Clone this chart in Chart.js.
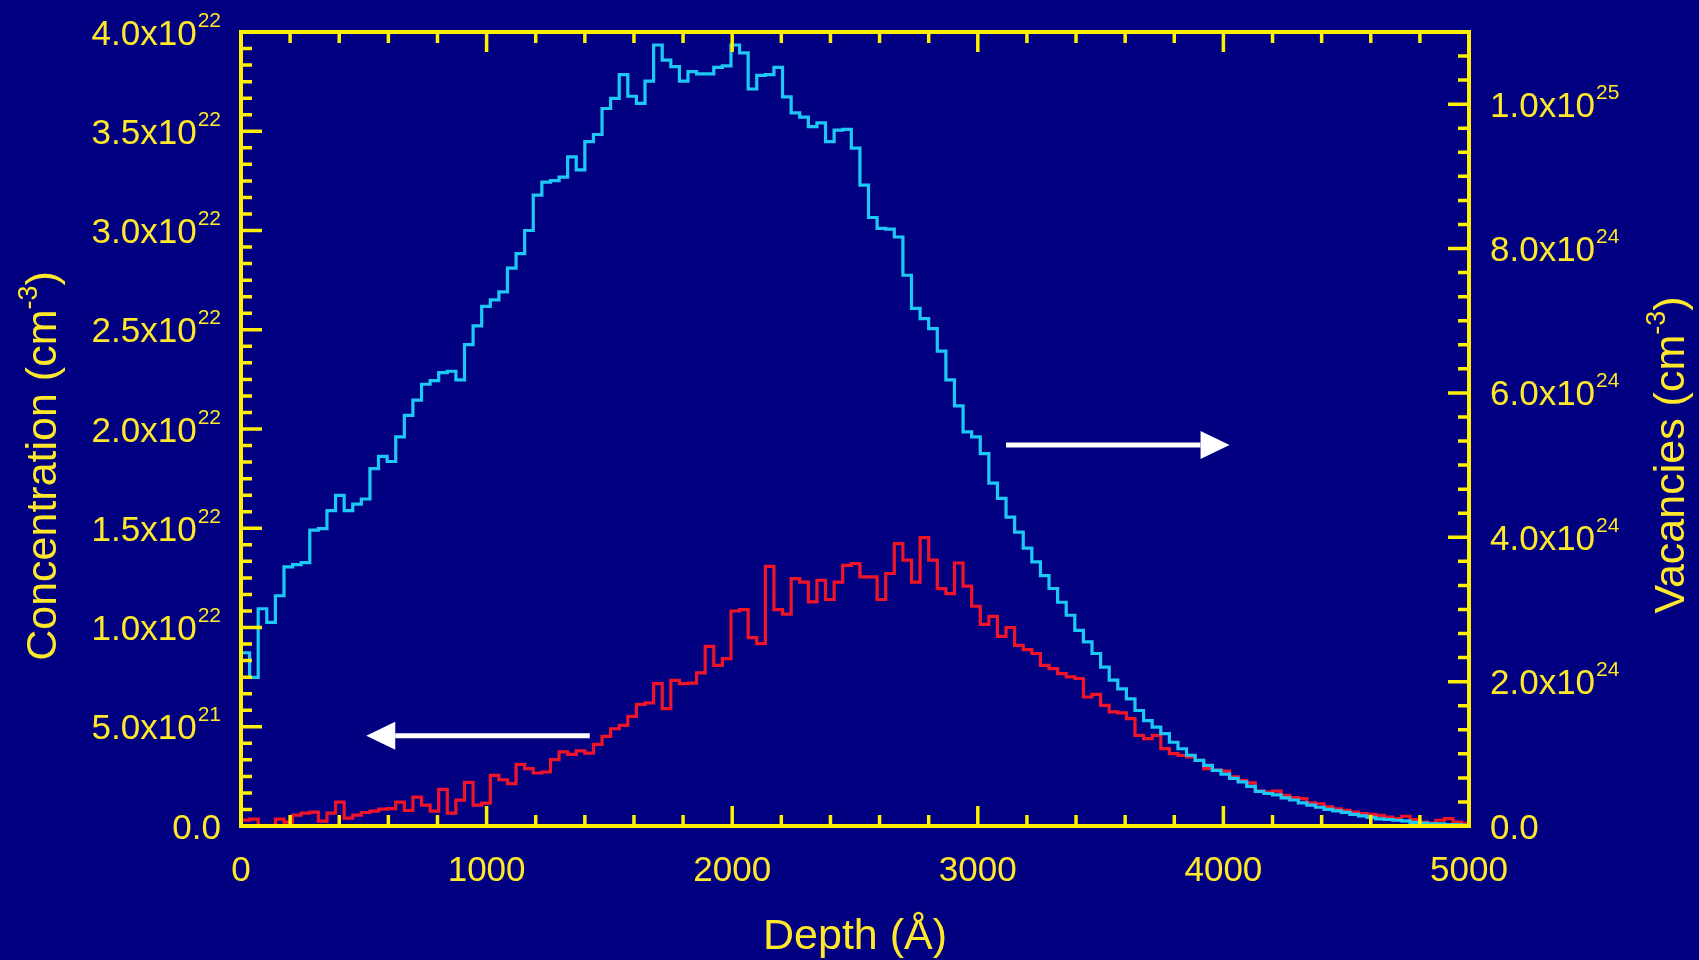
<!DOCTYPE html>
<html>
<head>
<meta charset="utf-8">
<title>Concentration and vacancies vs depth</title>
<script src="https://cdn.jsdelivr.net/npm/chart.js@4.4.1/dist/chart.umd.min.js"></script>
<style>
  html, body { margin: 0; padding: 0; background: #000080; }
  #wrap { width: 1699px; height: 960px; }
</style>
</head>
<body>
<div id="wrap"><canvas id="profile" width="1699" height="960"></canvas></div>
<script>
// histogram bins, 35 Å each, starting at the surface
const BIN_WIDTH = 35
const DEPTH_MAX = 5000

// vacancies per bin, in units of 1e24 cm^-3 (right axis)
const vacancies = [
  2.40, 2.06, 3.01, 2.82, 3.19, 3.59, 3.62, 3.65, 4.10, 4.12,
  4.37, 4.58, 4.37, 4.46, 4.53, 4.95, 5.12, 5.05, 5.39, 5.69,
  5.90, 6.12, 6.17, 6.28, 6.30, 6.18, 6.67, 6.93, 7.20, 7.29,
  7.40, 7.73, 7.93, 8.25, 8.74, 8.92, 8.94, 8.99, 9.27, 9.09,
  9.48, 9.58, 9.94, 10.08, 10.41, 10.11, 10.01, 10.32, 10.82, 10.61,
  10.52, 10.32, 10.45, 10.42, 10.42, 10.51, 10.53, 10.82, 10.71, 10.21,
  10.40, 10.41, 10.51, 10.10, 9.88, 9.82, 9.69, 9.74, 9.48, 9.64,
  9.65, 9.39, 8.88, 8.43, 8.28, 8.27, 8.16, 7.63, 7.17, 7.03,
  6.89, 6.58, 6.18, 5.82, 5.46, 5.39, 5.16, 4.75, 4.54, 4.28,
  4.07, 3.85, 3.66, 3.47, 3.29, 3.10, 2.92, 2.71, 2.55, 2.39,
  2.20, 2.02, 1.90, 1.76, 1.60, 1.46, 1.37, 1.28, 1.16, 1.07,
  0.98, 0.91, 0.84, 0.77, 0.72, 0.66, 0.61, 0.55, 0.48, 0.45,
  0.43, 0.39, 0.36, 0.32, 0.29, 0.26, 0.23, 0.21, 0.19, 0.16,
  0.14, 0.12, 0.10, 0.09, 0.08, 0.07, 0.05, 0.04, 0.03, 0.03,
  0.02, 0.02, 0.01
]

// implanted ion concentration per bin, in units of 1e22 cm^-3 (left axis)
const concentration = [
  0.030, 0.035, 0.000, 0.000, 0.035, 0.020, 0.055, 0.065, 0.070, 0.025,
  0.065, 0.120, 0.040, 0.055, 0.068, 0.075, 0.085, 0.088, 0.120, 0.078,
  0.145, 0.105, 0.075, 0.185, 0.065, 0.130, 0.220, 0.105, 0.115, 0.255,
  0.233, 0.213, 0.310, 0.289, 0.267, 0.272, 0.334, 0.373, 0.361, 0.378,
  0.367, 0.411, 0.452, 0.490, 0.507, 0.552, 0.613, 0.620, 0.717, 0.591,
  0.734, 0.717, 0.720, 0.771, 0.905, 0.809, 0.843, 1.083, 1.090, 0.949,
  0.919, 1.308, 1.090, 1.067, 1.246, 1.229, 1.129, 1.238, 1.141, 1.229,
  1.313, 1.322, 1.255, 1.255, 1.141, 1.272, 1.423, 1.339, 1.229, 1.453,
  1.339, 1.196, 1.171, 1.325, 1.208, 1.107, 1.016, 1.056, 0.955, 1.000,
  0.910, 0.889, 0.869, 0.809, 0.793, 0.768, 0.751, 0.743, 0.650, 0.663,
  0.608, 0.575, 0.570, 0.541, 0.457, 0.440, 0.457, 0.390, 0.365, 0.356,
  0.348, 0.331, 0.289, 0.281, 0.277, 0.247, 0.230, 0.217, 0.176, 0.171,
  0.176, 0.154, 0.143, 0.138, 0.116, 0.112, 0.096, 0.087, 0.079, 0.070,
  0.062, 0.059, 0.054, 0.045, 0.037, 0.049, 0.032, 0.020, 0.015, 0.029,
  0.037, 0.020, 0.012
]

// labelled ticks on each axis
const depthTicks = [0, 1000, 2000, 3000, 4000, 5000]
const concTicks = [0, 5e21, 1e22, 1.5e22, 2e22, 2.5e22, 3e22, 3.5e22, 4e22]
const vacTicks = [0, 2e24, 4e24, 6e24, 8e24, 1e25]
const CONC_MAX = 4e22
const VAC_MAX = 1.1e25

// arrows pointing each curve to its axis (depth in Å, height in axis units)
const arrows = [
  { axis: 'yConc', from: 1420, to: 510, at: 4.55e21 },
  { axis: 'yVac', from: 3115, to: 4025, at: 5.28e24 }
]

const AXIS_COLOR = '#fff000'
const TEXT_COLOR = '#ffe82a'
const TICK_PX = 35
const TITLE_PX = 43
const TICK_FONT = TICK_PX + 'px "Liberation Sans", Arial, sans-serif'
const SUP_FONT = '21px "Liberation Sans", Arial, sans-serif'
const TITLE_FONT = TITLE_PX + 'px "Liberation Sans", Arial, sans-serif'
const TITLE_SUP_FONT = '27px "Liberation Sans", Arial, sans-serif'

function histogram(values, unit) {
  const pts = values.map((v, i) => ({ x: i * BIN_WIDTH, y: v * unit }))
  pts.push({ x: DEPTH_MAX, y: values[values.length - 1] * unit })
  return pts
}

function tickMarks(majorStep, subdivisions, max) {
  const minor = majorStep / subdivisions
  const marks = []
  for (let k = 0; k * minor <= max * (1 + 1e-9); k++) {
    marks.push({ value: k * minor, major: k % subdivisions === 0 })
  }
  return marks
}

// "3.5x10" + superscript "22"
function sciParts(v) {
  if (v === 0) return ['0.0', '']
  const e = Math.floor(Math.log10(v) + 1e-9)
  return [(v / Math.pow(10, e)).toFixed(1) + 'x10', String(e)]
}

function drawSci(ctx, v, x, y, align) {
  const [base, sup] = sciParts(v)
  ctx.font = TICK_FONT
  const wb = ctx.measureText(base).width
  ctx.font = SUP_FONT
  const ws = sup ? ctx.measureText(sup).width + 1 : 0
  const left = align === 'right' ? x - wb - ws : x
  const baseline = y + TICK_PX * 0.358
  ctx.textAlign = 'left'
  ctx.textBaseline = 'alphabetic'
  ctx.font = TICK_FONT
  ctx.fillText(base, left, baseline)
  if (sup) {
    ctx.font = SUP_FONT
    ctx.fillText(sup, left + wb + 1, baseline - 18)
  }
}

// rotated axis title with a raised "-3"
function drawUnitTitle(ctx, text, cx, cy) {
  const parts = [[text + ' (cm', TITLE_FONT, 0], ['-3', TITLE_SUP_FONT, 19], [')', TITLE_FONT, 0]]
  ctx.save()
  ctx.translate(cx, cy)
  ctx.rotate(-Math.PI / 2)
  let total = 0
  parts.forEach(p => { ctx.font = p[1]; total += ctx.measureText(p[0]).width })
  let x = -total / 2
  const baseline = TITLE_PX * 0.358
  ctx.textAlign = 'left'
  ctx.textBaseline = 'alphabetic'
  parts.forEach(p => {
    ctx.font = p[1]
    ctx.fillText(p[0], x, baseline - p[2])
    x += ctx.measureText(p[0]).width
  })
  ctx.restore()
}

const frame = {
  id: 'frame',
  afterDatasetsDraw(chart) {
    const { ctx, chartArea: a, scales } = chart
    const { x, yConc, yVac } = scales
    ctx.save()

    // arrows
    ctx.fillStyle = '#ffffff'
    ctx.strokeStyle = '#ffffff'
    ctx.lineWidth = 5
    arrows.forEach(ar => {
      const y = scales[ar.axis].getPixelForValue(ar.at)
      const x0 = x.getPixelForValue(ar.from)
      const x1 = x.getPixelForValue(ar.to)
      const dir = Math.sign(x1 - x0)
      const head = 29
      ctx.beginPath()
      ctx.moveTo(x0, y)
      ctx.lineTo(x1 - dir * head, y)
      ctx.stroke()
      ctx.beginPath()
      ctx.moveTo(x1, y)
      ctx.lineTo(x1 - dir * head, y - 14)
      ctx.lineTo(x1 - dir * head, y + 14)
      ctx.closePath()
      ctx.fill()
    })

    // frame and inward ticks
    ctx.strokeStyle = AXIS_COLOR
    ctx.lineWidth = 4
    ctx.strokeRect(a.left, a.top, a.right - a.left, a.bottom - a.top)
    ctx.lineWidth = 3.5
    ctx.beginPath()
    tickMarks(1000, 5, DEPTH_MAX).forEach(t => {
      const px = x.getPixelForValue(t.value)
      const len = t.major ? 20 : 11
      ctx.moveTo(px, a.bottom); ctx.lineTo(px, a.bottom - len)
      ctx.moveTo(px, a.top); ctx.lineTo(px, a.top + len)
    })
    tickMarks(5e21, 6, CONC_MAX).forEach(t => {
      const py = yConc.getPixelForValue(t.value)
      ctx.moveTo(a.left, py); ctx.lineTo(a.left + (t.major ? 21 : 11), py)
    })
    tickMarks(2e24, 6, VAC_MAX).forEach(t => {
      const py = yVac.getPixelForValue(t.value)
      ctx.moveTo(a.right, py); ctx.lineTo(a.right - (t.major ? 21 : 11), py)
    })
    ctx.stroke()

    // tick labels
    ctx.fillStyle = TEXT_COLOR
    ctx.font = TICK_FONT
    ctx.textAlign = 'center'
    ctx.textBaseline = 'alphabetic'
    depthTicks.forEach(v => {
      ctx.fillText(String(v), x.getPixelForValue(v), 868 + TICK_PX * 0.358)
    })
    concTicks.forEach(v => drawSci(ctx, v, a.left - 20, yConc.getPixelForValue(v), 'right'))
    vacTicks.forEach(v => drawSci(ctx, v, a.right + 21, yVac.getPixelForValue(v), 'left'))

    // axis titles
    ctx.font = TITLE_FONT
    ctx.textAlign = 'center'
    ctx.fillText('Depth (Å)', (a.left + a.right) / 2, 934 + TITLE_PX * 0.358)
    drawUnitTitle(ctx, 'Concentration', 41, 466)
    drawUnitTitle(ctx, 'Vacancies', 1669, 455)

    ctx.restore()
  }
}

new Chart(document.getElementById('profile'), {
  type: 'line',
  data: {
    datasets: [
      {
        label: 'Vacancies',
        data: histogram(vacancies, 1e24),
        yAxisID: 'yVac',
        borderColor: '#1ec8f5',
        borderWidth: 3.2,
        stepped: 'before',
        pointRadius: 0
      },
      {
        label: 'Concentration',
        data: histogram(concentration, 1e22),
        yAxisID: 'yConc',
        borderColor: '#f01428',
        borderWidth: 3.2,
        stepped: 'before',
        pointRadius: 0
      }
    ]
  },
  options: {
    responsive: false,
    animation: false,
    devicePixelRatio: 1,
    layout: { padding: { left: 241, right: 230, top: 32, bottom: 134 } },
    scales: {
      x: { type: 'linear', min: 0, max: DEPTH_MAX, display: false },
      yConc: { type: 'linear', position: 'left', min: 0, max: CONC_MAX, display: false },
      yVac: { type: 'linear', position: 'right', min: 0, max: VAC_MAX, display: false }
    },
    plugins: {
      legend: { display: false },
      tooltip: { enabled: false }
    }
  },
  plugins: [frame]
})
</script>
</body>
</html>
